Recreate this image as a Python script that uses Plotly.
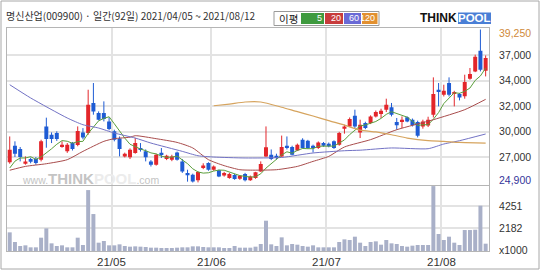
import plotly.graph_objects as go
import pandas as pd

W, H = 540, 270
L, R, T, B = 7, 51, 28, 19

# ---------------- data ----------------
opens = [26790, 28350, 28040, 26660, 27100, 27100, 27040, 30160, 29380, 29540,
         28230, 27820, 28600, 28420, 29590, 29540, 32360, 31420, 31420, 30630,
         29700, 29030, 27350, 27260, 27670, 28130, 27820, 26880, 26570, 27700,
         27100, 27040, 27720, 26880, 25790, 25630, 25100, 26340, 26730, 26100,
         26040, 25560, 25320, 25600, 25260, 25700, 25100, 25320, 25940, 27350,
         27500, 27400, 27350, 28350, 28230, 27910, 28910, 28820, 28350, 28130,
         28600, 28540, 28760, 28450, 29950, 30160, 31170, 29600, 30480, 30480,
         31100, 31320, 31730, 31950, 30570, 30630, 31010, 30790, 30570, 30160,
         30250, 31260, 33600, 33130, 34230, 33200, 33200, 32980, 34640, 35320,
         37260, 35390]
highs = [29220, 28760, 28230, 27350, 27230, 27290, 28910, 30980, 29600, 29700,
         28760, 28600, 28700, 30160, 30000, 33600, 34230, 31570, 32510, 31000,
         29850, 29220, 27700, 28100, 29080, 28600, 28000, 27000, 27600, 28130,
         27500, 27500, 27800, 27100, 26100, 25730, 25940, 26700, 26800, 26500,
         26100, 25900, 25800, 25700, 25600, 25800, 25550, 25900, 26880, 30160,
         28000, 27600, 29300, 29220, 28350, 28550, 29050, 28900, 28450, 28750,
         28700, 28650, 28850, 29650, 30320, 31000, 31730, 30790, 30600, 31200,
         31650, 31820, 32760, 32360, 30950, 31100, 31100, 30900, 30700, 30790,
         31070, 34760, 34230, 34070, 34760, 33500, 33300, 35010, 35640, 36890,
         39250, 36820]
lows = [26660, 27290, 26880, 26570, 26700, 26560, 26880, 28160, 28600, 28800,
        28160, 27680, 27900, 28300, 28950, 29380, 31260, 30720, 30630, 29800,
        28760, 27350, 27250, 27100, 27600, 27800, 26880, 26400, 26480, 27200,
        27000, 26900, 26950, 25800, 24980, 24900, 24910, 26150, 26000, 26000,
        25400, 25450, 25250, 25150, 25150, 25000, 25050, 25250, 25900, 27300,
        27000, 27050, 27300, 28000, 27450, 27850, 28100, 28050, 27720, 28050,
        28250, 28200, 28050, 28350, 29480, 30100, 30010, 29070, 29900, 30380,
        31000, 30950, 31510, 31100, 29850, 30010, 30550, 30150, 29130, 29950,
        30100, 31000, 32040, 32970, 32970, 32040, 32600, 32760, 34540, 35250,
        35320, 34850]
closes = [27980, 27600, 27290, 26880, 26850, 26730, 28760, 28980, 28980, 28980,
          28450, 28450, 28040, 29730, 29130, 32200, 31570, 30790, 30860, 29920,
          28910, 28040, 27600, 27980, 28600, 27980, 27260, 26570, 27510, 27560,
          27410, 27350, 27040, 25940, 25590, 25000, 25880, 26500, 26100, 26390,
          25470, 25800, 25700, 25230, 25540, 25100, 25470, 25850, 26640, 28200,
          27100, 27250, 28230, 28130, 27510, 28450, 28130, 28130, 28130, 28660,
          28350, 28290, 28130, 29540, 30150, 30860, 30160, 30320, 30010, 31100,
          31510, 31630, 32200, 31260, 30260, 30790, 30630, 30260, 29290, 30630,
          30790, 33200, 33390, 33510, 33130, 33390, 32880, 34330, 35080, 36700,
          35480, 36580]
volumes_k = [1770, 853, 474, 537, 348, 348, 1264, 2149, 727, 474,
             537, 348, 348, 1264, 569, 5783, 3508, 790, 948, 537,
             537, 632, 474, 411, 442, 411, 380, 316, 316, 284,
             284, 284, 316, 348, 348, 442, 442, 380, 348, 348,
             348, 284, 284, 474, 316, 316, 316, 411, 664, 2876,
             632, 474, 1296, 537, 664, 600, 474, 411, 537, 348,
             348, 348, 348, 853, 1106, 1043, 1359, 790, 474, 853,
             916, 600, 1043, 727, 664, 474, 411, 506, 569, 569,
             569, 6162, 1612, 1043, 1359, 790, 569, 1991, 1991, 2022,
             4300, 695]

ma5_head = [26260, 26900, 27200, 27200]
ma20_idx = [0, 3, 7, 11, 14, 18, 20, 23, 24, 28, 32, 35, 38, 41, 44, 46, 51,
            55, 58, 61, 64, 69, 74, 81, 87, 91]
ma20 = [26050, 26410, 26660, 27040, 27820, 28760, 29010, 29150, 29290, 29010,
        28660, 28140, 27040, 26480, 26100, 26060, 26100, 26410, 26880, 27350,
        28230, 28920, 29850, 30790, 31730, 32700]
ma60_idx = [0, 4, 11, 14, 17, 20, 24, 27, 33, 36, 39, 45, 52, 58, 64, 67, 73,
            80, 83, 86, 91]
ma60 = [34070, 32830, 30950, 30320, 30010, 29540, 29070, 28600, 27820, 27410,
        27290, 27200, 27250, 27670, 27880, 27930, 28140, 28070, 28510, 28820,
        29450]
ma120_idx = [39, 42, 45, 48, 52, 55, 58, 61, 64, 67, 70, 73, 76, 80, 83, 86, 91]
ma120 = [32100, 32260, 32450, 32450, 31960, 31540, 31140, 30700, 30280, 29810,
         29640, 29380, 29070, 28820, 28760, 28660, 28600]

month_labels = ["21/05", "21/06", "21/07", "21/08"]
month_start_idx = [20, 39, 61, 83]
price_min, price_max = 24900, 39250
price_tick_labels = ["27,000", "30,000", "32,000", "34,000", "37,000"]
vol_tick_vals = [2182, 4251]

title_text = "명신산업(009900) · 일간(92일) 2021/04/05 ~ 2021/08/12"

# ---------------- helpers ----------------
def px(x):
    return (x - L) / (W - L - R)

def py(y):
    return (H - B - y) / (H - T - B)

n = len(closes)
idx = list(range(n))
RED, BLUE = "#e3262b", "#1f5cd4"

fig = go.Figure()

# wicks
for up, col in ((True, RED), (False, BLUE)):
    xs, ys = [], []
    for i in idx:
        if (closes[i] >= opens[i]) == up:
            xs += [i, i, None]
            ys += [lows[i], highs[i], None]
    fig.add_trace(go.Scatter(x=xs, y=ys, mode="lines", line=dict(color=col, width=1),
                             hoverinfo="skip", showlegend=False))
# bodies
for up, col in ((True, RED), (False, BLUE)):
    xs, base, hgt = [], [], []
    for i in idx:
        if (closes[i] >= opens[i]) == up:
            xs.append(i)
            base.append(min(opens[i], closes[i]))
            hgt.append(max(abs(closes[i] - opens[i]), 90))
    fig.add_trace(go.Bar(x=xs, y=hgt, base=base, width=0.76, marker=dict(color=col, line_width=0),
                         showlegend=False, hoverinfo="skip"))

# moving averages
ma5 = pd.Series(closes).rolling(5).mean().tolist()
ma5[:4] = ma5_head
fig.add_trace(go.Scatter(x=idx, y=ma5, mode="lines", line=dict(color="#5b9e3c", width=1), showlegend=False))
fig.add_trace(go.Scatter(x=ma20_idx, y=ma20, mode="lines", line=dict(color="#a84c4c", width=1, shape="spline", smoothing=0.6), showlegend=False))
fig.add_trace(go.Scatter(x=ma60_idx, y=ma60, mode="lines", line=dict(color="#7272c4", width=1, shape="spline", smoothing=0.6), showlegend=False))
fig.add_trace(go.Scatter(x=ma120_idx, y=ma120, mode="lines", line=dict(color="#d6a45e", width=1.2, shape="spline", smoothing=0.6), showlegend=False))

# volume
fig.add_trace(go.Bar(x=idx, y=volumes_k, width=0.76, marker=dict(color="#a9b0c8", line_width=0),
                     xaxis="x2", yaxis="y2", showlegend=False))

grid_x = [m - 0.5 for m in month_start_idx]
step = (price_max - price_min) / 6
price_ticks = [price_min + step * k for k in range(1, 6)]

x_range = [-0.52, 91.64]
pr_lo = price_min - 2.0 * step / 25.5
pr_hi = price_max + 1.5 * step / 25.5

axis_common = dict(showline=True, mirror=True, linecolor="#b5b5b5", linewidth=1,
                   zeroline=False, ticks="", fixedrange=True)
GRID = "#e3e3e3"

fig.update_layout(
    width=W, height=H, margin=dict(l=L, r=R, t=T, b=B),
    paper_bgcolor="white", plot_bgcolor="white", barmode="overlay",
    showlegend=False,
    xaxis=dict(domain=[0, 1], range=x_range, anchor="y", tickvals=grid_x, showticklabels=False,
               showgrid=True, gridcolor=GRID, gridwidth=1.5, **axis_common),
    yaxis=dict(domain=[py(184.5), 1], range=[pr_lo, pr_hi], side="right",
               tickvals=price_ticks, ticktext=price_tick_labels, showgrid=True, gridcolor=GRID,
               gridwidth=1.5, tickfont=dict(family="Liberation Sans", size=10.5, color="#333"),
               ticklabelstandoff=7, **axis_common),
    xaxis2=dict(domain=[0, 1], range=x_range, anchor="y2", tickvals=grid_x, showticklabels=False,
                showgrid=True, gridcolor=GRID, gridwidth=1.5, **axis_common),
    yaxis2=dict(domain=[0, py(186)], range=[0, 6170], side="right", tickvals=vol_tick_vals,
                ticktext=[str(v) for v in vol_tick_vals], showgrid=True, gridcolor=GRID, gridwidth=1.5,
                tickfont=dict(family="Liberation Sans", size=10.5, color="#333"),
                ticklabelstandoff=7, **axis_common),
)

ann = []
def text(x, y, s, size=11, color="#333", xanchor="left", family="Liberation Sans"):
    ann.append(dict(x=px(x), y=py(y), xref="paper", yref="paper", text=s, showarrow=False,
                    xanchor=xanchor, yanchor="middle", font=dict(size=size, color=color, family=family)))

# month labels under the volume panel, placed on the shared index scale
for gx, lab in zip(grid_x, month_labels):
    ann.append(dict(x=gx, y=py(262), xref="x2", yref="paper", text=lab, showarrow=False,
                    xanchor="center", yanchor="middle",
                    font=dict(size=11.5, color="#333", family="Liberation Sans")))

text(4, 15, title_text, size=10, color="#333", family="Noto Sans CJK KR")
text(497, 33.5, "39,250", size=10.5, color="#d08a3a")
text(497, 180, "24,900", size=10.5, color="#35359a")
text(497, 249.5, "x1000", size=10.5, color="#333")

shapes = []
def rect(x0, y0, x1, y1, fill=None, line="#999", lw=1):
    shapes.append(dict(type="rect", xref="paper", yref="paper", x0=px(x0), x1=px(x1), y0=py(y0), y1=py(y1),
                       fillcolor=fill if fill else "rgba(0,0,0,0)", line=dict(color=line, width=lw),
                       layer="above"))

# outer border
rect(1, 1, 539, 269, line="#a8a8a8")
# legend box
rect(274, 11.5, 379, 25.5, fill="white", line="#9a9a9a")
text(277, 18.5, "이평", size=10.5, color="#222", family="Noto Sans CJK KR")
ma_boxes = [(301, 324, "#3f9a3f", "5"), (325, 343, "#c83c3c", "20"),
            (344, 361, "#6a6ad6", "60"), (362, 377.5, "#e29030", "120")]
for x0, x1, c, s in ma_boxes:
    rect(x0, 13, x1, 24, fill=c, line=c, lw=0)
    text(x1 - 0.5, 18.5, s, size=9, color="white", xanchor="right")

# logo
text(418, 18, "<b>THINK</b>", size=12, color="#111", family="Liberation Sans")
rect(458, 12.5, 491, 24, fill="#4a7fd6", line="#4a7fd6", lw=0)
text(474.5, 18.3, "<b>POOL</b>", size=11.5, color="white", xanchor="center", family="Liberation Sans")

# watermark
ann.append(dict(x=px(20), y=py(178), xref="paper", yref="paper", showarrow=False, xanchor="left",
                yanchor="middle",
                text="www.<b><span style='font-size:15px'>THINK</span></b>"
                     "<b><span style='font-size:15px;color:#ececec'>POOL</span></b>.com",
                font=dict(size=10.5, color="#c4c4c4", family="Liberation Sans")))

fig.update_layout(annotations=ann, shapes=shapes)
fig.write_html("out.html")
